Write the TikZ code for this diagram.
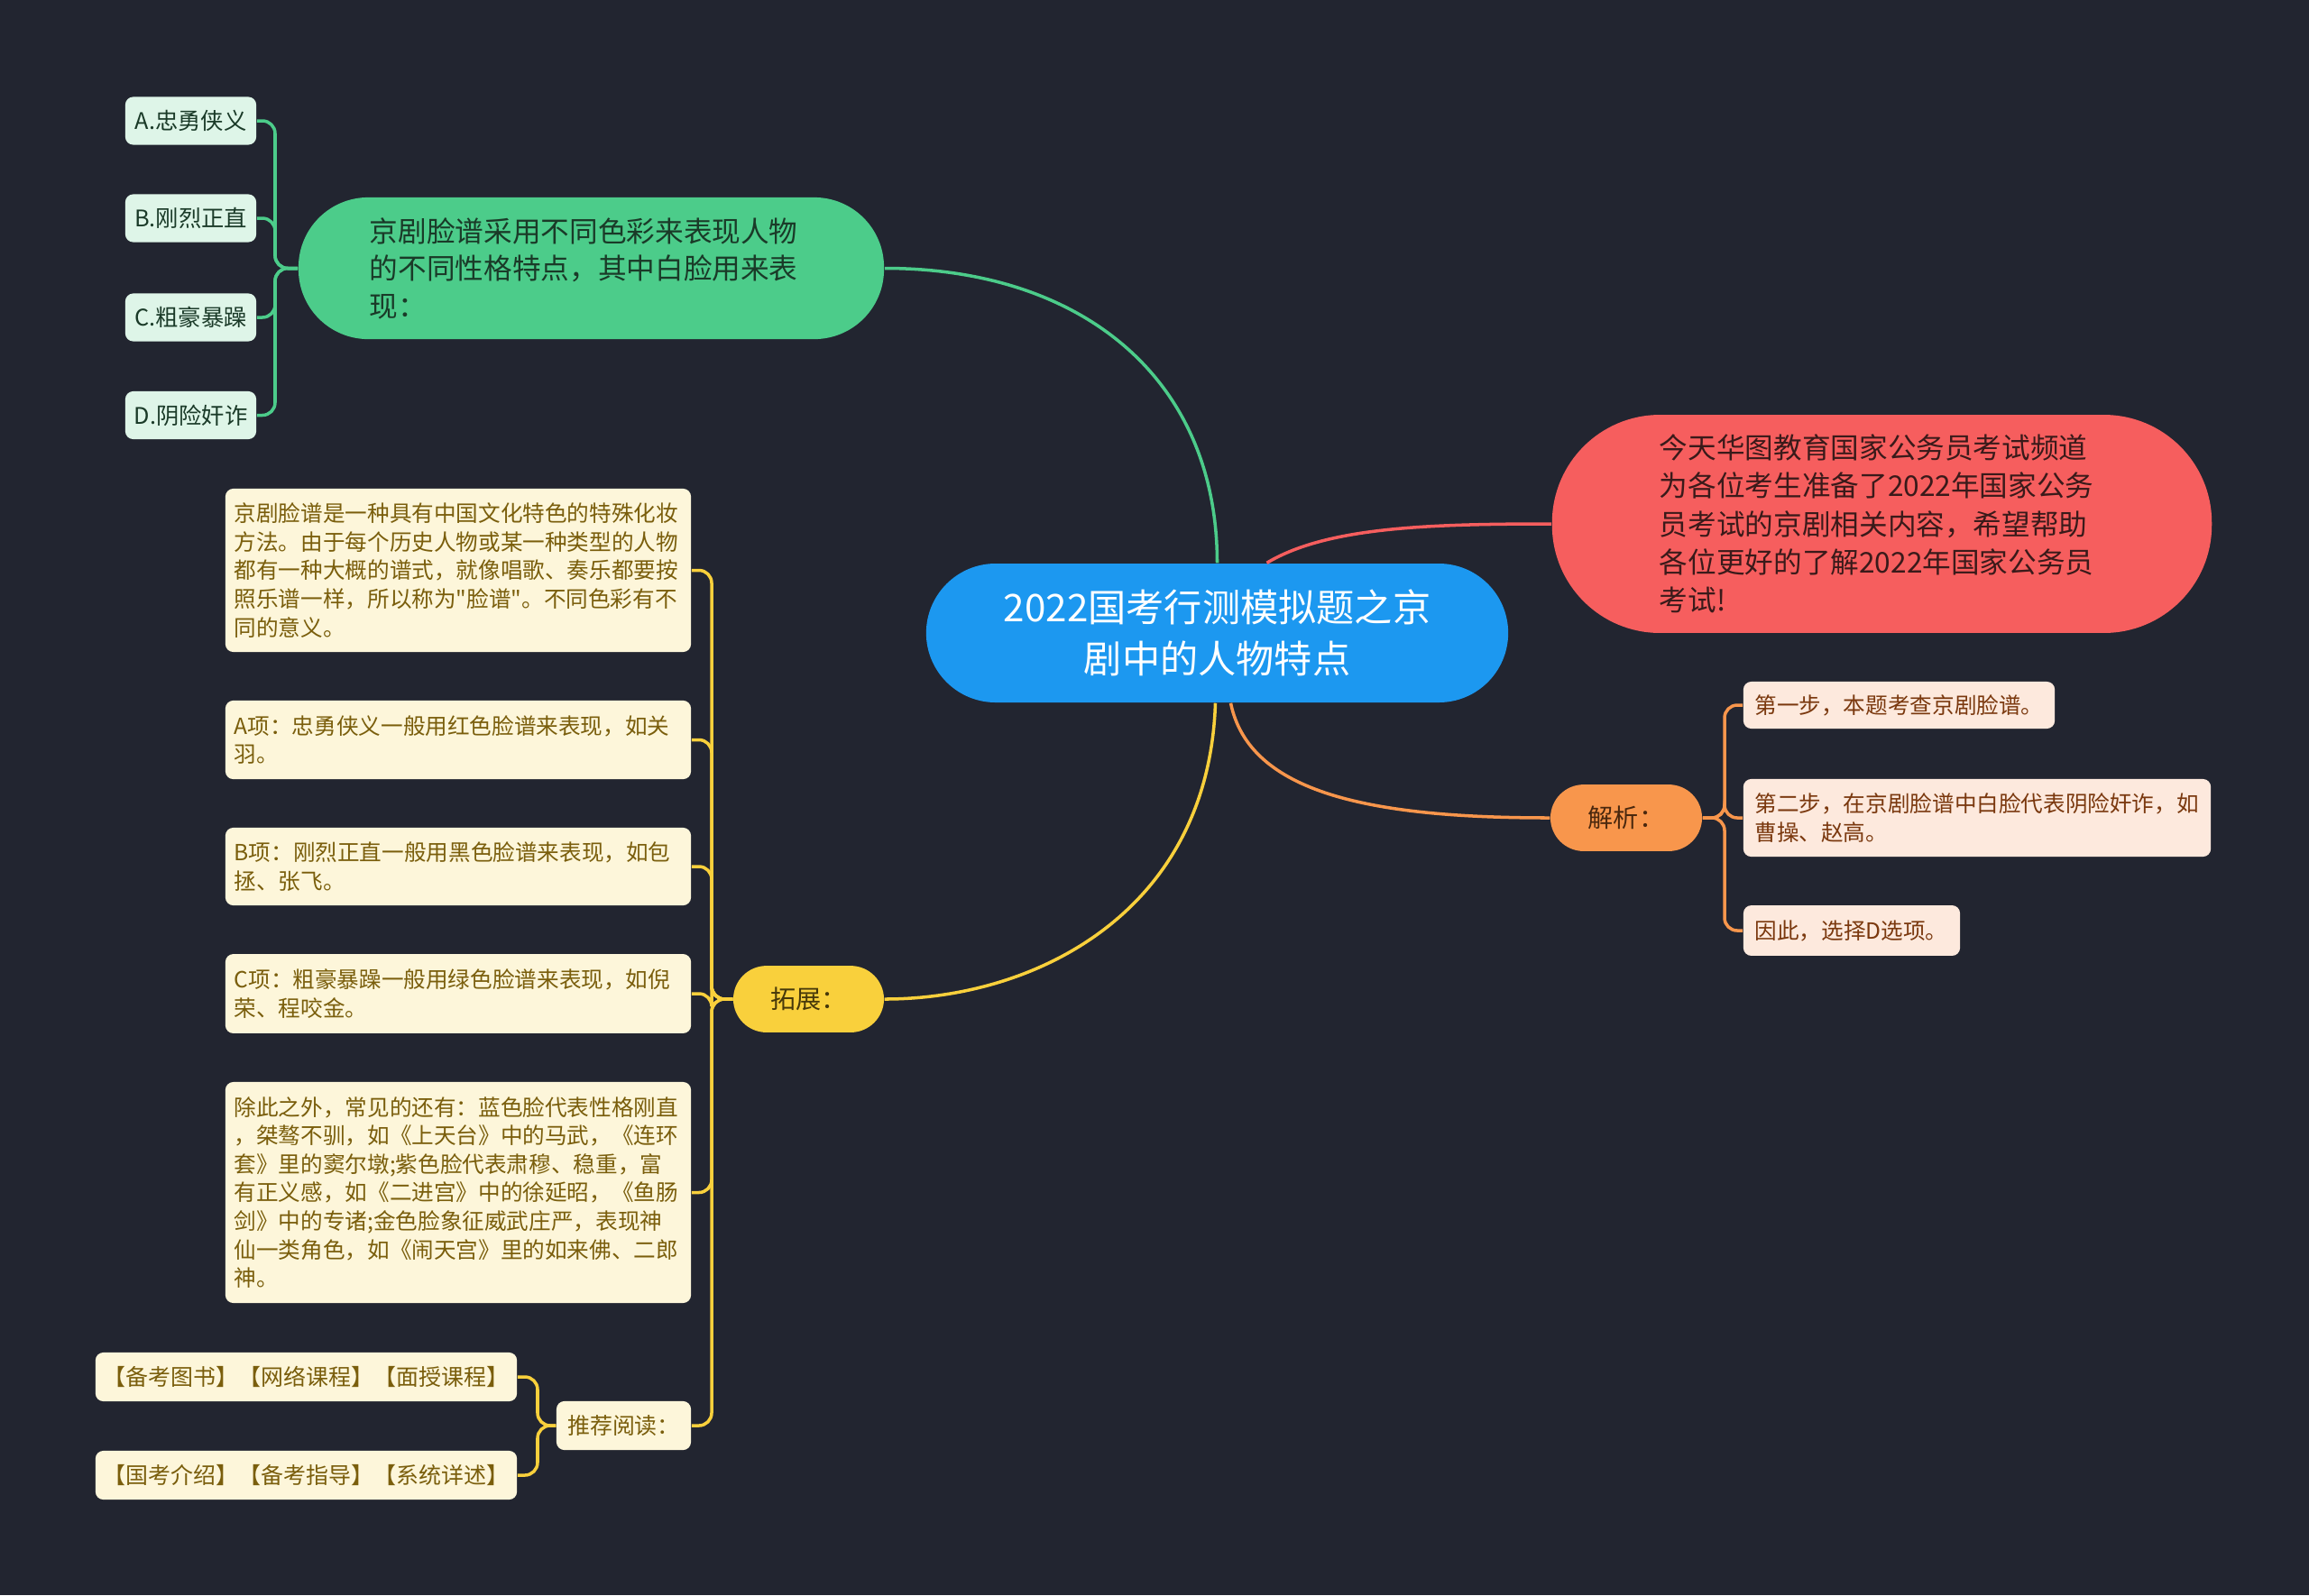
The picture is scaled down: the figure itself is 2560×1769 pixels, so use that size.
\documentclass[tikz,border=0pt]{standalone}
\usepackage{fontspec}
\setmainfont{Noto Sans CJK SC}[Ligatures=TeXOff]
\usetikzlibrary{calc}
\definecolor{bg}{RGB}{34,37,48}
\definecolor{cblue}{RGB}{28,152,240}
\definecolor{cgreen}{RGB}{76,204,138}
\definecolor{cred}{RGB}{246,94,94}
\definecolor{corange}{RGB}{248,150,76}
\definecolor{cyellow}{RGB}{249,208,60}
\definecolor{gfill}{RGB}{222,245,232}
\definecolor{gtext}{RGB}{26,58,40}
\definecolor{rtext}{RGB}{58,26,26}
\definecolor{ofill}{RGB}{253,233,221}
\definecolor{otext}{RGB}{122,56,14}
\definecolor{ohead}{RGB}{74,40,14}
\definecolor{yfill}{RGB}{253,246,218}
\definecolor{ytext}{RGB}{122,94,12}
\definecolor{yhead}{RGB}{70,56,10}
\begin{document}
\begin{tikzpicture}[x=0.01cm,y=-0.01cm,
  centre/.style={fill=cblue,text=white,rounded corners=21.9pt,minimum width=183.5pt,minimum height=43.8pt,align=center,inner sep=0pt,font=\fontsize{12}{16.2}\selectfont},
  gmain/.style={fill=cgreen,text=gtext,rounded corners=22pt,minimum width=184.6pt,minimum height=44.7pt,text width=139.7pt,align=left,inner sep=0pt,font=\fontsize{9}{11.8}\selectfont},
  rmain/.style={fill=cred,text=rtext,rounded corners=34pt,minimum width=208pt,minimum height=68.8pt,text width=140.3pt,align=left,inner sep=0pt,font=\fontsize{9}{12}\selectfont},
  omain/.style={fill=corange,text=ohead,rounded corners=10.5pt,minimum width=47.8pt,minimum height=21pt,inner sep=0pt,font=\fontsize{8}{10}\selectfont},
  ymain/.style={fill=cyellow,text=yhead,rounded corners=10.5pt,minimum width=47.5pt,minimum height=21pt,inner sep=0pt,font=\fontsize{8}{10}\selectfont},
  gleaf/.style={fill=gfill,text=gtext,rounded corners=2.5pt,minimum width=41.3pt,minimum height=15.1pt,inner sep=0pt,font=\fontsize{7.2}{9}\selectfont},
  oleaf/.style={fill=ofill,text=otext,rounded corners=2.5pt,inner xsep=3.6pt,inner ysep=0pt,align=left,font=\fontsize{7}{9.3}\selectfont},
  yleaf/.style={fill=yfill,text=ytext,rounded corners=2.5pt,inner xsep=2.8pt,inner ysep=0pt,text width=141.2pt,align=left,font=\fontsize{7}{9}\selectfont},
  ysmall/.style={fill=yfill,text=ytext,rounded corners=2.5pt,minimum height=15.4pt,inner sep=0pt,font=\fontsize{7.1}{9}\selectfont},
  gline/.style={draw=cgreen,line width=1pt},
  rline/.style={draw=cred,line width=1pt},
  oline/.style={draw=corange,line width=1pt},
  yline/.style={draw=cyellow,line width=1pt},
  bracket/.style={rounded corners=4pt}]
\fill[bg] (0,0) rectangle (2560,1769);
\useasboundingbox (0,0) rectangle (2560,1769);

% centre
\node[centre] (c) at (1349.5,702) {2022国考行测模拟题之京\\剧中的人物特点};

% green branch
\node[gmain] (g) at (655.5,297.5) {京剧脸谱采用不同色彩来表现人物\\的不同性格特点，其中白脸用来表\\现：};
\node[gleaf] (ga) at (211.5,134) {A.忠勇侠义};
\node[gleaf] (gb1) at (211.5,242) {B.刚烈正直};
\node[gleaf] (gc) at (211.5,352) {C.粗豪暴躁};
\node[gleaf] (gd) at (211.5,460.5) {D.阴险奸诈};
\coordinate (gbr) at (305,297.5);

% red branch
\node[rmain] (r) at (2086.5,581) {今天华图教育国家公务员考试频道\\为各位考生准备了2022年国家公务\\员考试的京剧相关内容，希望帮助\\各位更好的了解2022年国家公务员\\考试!};

% orange branch
\node[omain] (o) at (1803,907) {解析：};
\node[oleaf,text width=91pt,minimum height=14.8pt] (o1) at (2105.5,782) {第一步，本题考查京剧脸谱。};
\node[oleaf,text width=140.2pt,minimum height=24.5pt] (o2) at (2192,907) {第二步，在京剧脸谱中白脸代表阴险奸诈，如\\曹操、赵高。};
\node[oleaf,text width=61.1pt,minimum height=15.9pt] (o3) at (2053,1032) {因此，选择D选项。};
\coordinate (obr) at (1912,907);

% yellow branch
\node[ymain] (y) at (896.5,1108) {拓展：};
\node[yleaf,minimum height=51.5pt] (y1) at (508,632.5) {京剧脸谱是一种具有中国文化特色的特殊化妆\\方法。由于每个历史人物或某一种类型的人物\\都有一种大概的谱式，就像唱歌、奏乐都要按\\照乐谱一样，所以称为"脸谱"。不同色彩有不\\同的意义。};
\node[yleaf,minimum height=24.8pt] (y2) at (508,820.5) {A项：忠勇侠义一般用红色脸谱来表现，如关\\羽。};
\node[yleaf,minimum height=24.5pt] (y3) at (508,961) {B项：刚烈正直一般用黑色脸谱来表现，如包\\拯、张飞。};
\node[yleaf,minimum height=25pt] (y4) at (508,1102) {C项：粗豪暴躁一般用绿色脸谱来表现，如倪\\荣、程咬金。};
\node[yleaf,minimum height=69.7pt] (y5) at (508,1322.5) {除此之外，常见的还有：蓝色脸代表性格刚直\\，桀骜不驯，如《上天台》中的马武，《连环\\套》里的窦尔墩;紫色脸代表肃穆、稳重，富\\有正义感，如《二进宫》中的徐延昭，《鱼肠\\剑》中的专诸;金色脸象征威武庄严，表现神\\仙一类角色，如《闹天宫》里的如来佛、二郎\\神。};
\node[ysmall,minimum width=42.4pt] (y6) at (691.5,1581) {推荐阅读：};
\node[ysmall,minimum width=132.9pt] (y7) at (339.5,1527) {【备考图书】【网络课程】【面授课程】};
\node[ysmall,minimum width=132.9pt] (y8) at (339.5,1636) {【国考介绍】【备考指导】【系统详述】};
\coordinate (ybr) at (789,1108);
\coordinate (y6br) at (596,1581);

% main connectors
\draw[gline] (g.east) .. controls (1200,297.5) and (1349.5,420) .. (c.north);
\draw[rline] ($(c.north)+(55,0)$) .. controls (1470,585) and (1580,581) .. (r.west);
\draw[oline] ($(c.south)+(15,0)$) .. controls (1385,880) and (1520,907) .. (o.west);
\draw[yline] ($(c.south)+(-2,0)$) .. controls (1340,1010) and (1150,1108) .. (y.east);

% green brackets
\draw[gline,bracket] (g.west) -- (gbr) |- (ga.east);
\draw[gline,bracket] (g.west) -- (gbr) |- (gb1.east);
\draw[gline,bracket] (g.west) -- (gbr) |- (gc.east);
\draw[gline,bracket] (g.west) -- (gbr) |- (gd.east);

% orange brackets
\draw[oline,bracket] (o.east) -- (obr) |- (o1.west);
\draw[oline,bracket] (o.east) -- (obr) |- (o2.west);
\draw[oline,bracket] (o.east) -- (obr) |- (o3.west);

% yellow brackets
\draw[yline,bracket] (y.west) -- (ybr) |- (y1.east);
\draw[yline,bracket] (y.west) -- (ybr) |- (y2.east);
\draw[yline,bracket] (y.west) -- (ybr) |- (y3.east);
\draw[yline,bracket] (y.west) -- (ybr) |- (y4.east);
\draw[yline,bracket] (y.west) -- (ybr) |- (y5.east);
\draw[yline,bracket] (y.west) -- (ybr) |- (y6.east);
\draw[yline,bracket] (y6.west) -- (y6br) |- (y7.east);
\draw[yline,bracket] (y6.west) -- (y6br) |- (y8.east);
\end{tikzpicture}
\end{document}
